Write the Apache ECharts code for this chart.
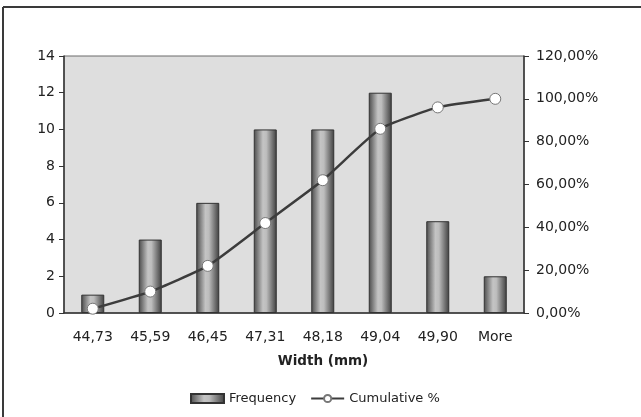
<!DOCTYPE html>
<html>
<head>
<meta charset="utf-8">
<script src="https://cdn.jsdelivr.net/npm/echarts@6/dist/echarts.min.js"></script>
<style>
  html, body { margin: 0; padding: 0; background: #ffffff; }
  #chart { width: 641px; height: 417px; }
</style>
</head>
<body>
<div id="chart"></div>
<script>
// Histogram of widths with cumulative percentage
const categories = ['44,73', '45,59', '46,45', '47,31', '48,18', '49,04', '49,90', 'More'];
const frequency = [1, 4, 6, 10, 10, 12, 5, 2];
const cumulativePct = [2, 10, 22, 42, 62, 86, 96, 100];
const leftTicks = [0, 2, 4, 6, 8, 10, 12, 14];
const rightTicks = [0, 20, 40, 60, 80, 100, 120];
const xTitle = 'Width (mm)';

const font = '"DejaVu Sans", "Liberation Sans", Arial, sans-serif';
const chart = echarts.init(document.getElementById('chart'), null, { renderer: 'canvas' });

const barFill = new echarts.graphic.LinearGradient(0, 0, 1, 0, [
  { offset: 0, color: '#4a4a4a' },
  { offset: 0.4, color: '#c4c4c4' },
  { offset: 0.55, color: '#bdbdbd' },
  { offset: 1, color: '#3e3e3e' }
]);

chart.setOption({
  backgroundColor: '#ffffff',
  animation: false,
  textStyle: { fontFamily: font },
  graphic: [
    { type: 'line', shape: { x1: 3, y1: 7, x2: 641, y2: 7 }, style: { stroke: '#3a3a3a', lineWidth: 2 }, z: 100 },
    { type: 'line', shape: { x1: 3, y1: 7, x2: 3, y2: 417 }, style: { stroke: '#3a3a3a', lineWidth: 2 }, z: 100 },
    // axis title placed under the category labels
    { type: 'text', x: 323, y: 361, style: { text: xTitle, fontFamily: font, fontSize: 13.5, fontWeight: 'bold',
        fill: '#222', align: 'center', verticalAlign: 'middle' } }
  ],
  grid: {
    left: 64, right: 117, top: 56, bottom: 104,
    show: true,
    backgroundColor: '#dedede',
    borderColor: '#6a6a6a',
    borderWidth: 1
  },
  legend: {
    top: 387,
    left: 185,
    itemGap: 14,
    itemWidth: 33,
    itemHeight: 9,
    textStyle: { fontFamily: font, fontSize: 13, color: '#222' },
    data: [
      { name: 'Frequency', icon: 'rect' },
      { name: 'Cumulative %' }
    ]
  },
  xAxis: {
    type: 'category',
    data: categories,
    axisLine: { lineStyle: { color: '#333', width: 1.5 } },
    axisTick: { inside: true, length: 6, lineStyle: { color: '#333' } },
    axisLabel: { fontFamily: font, fontSize: 14, color: '#222', margin: 17 }
  },
  yAxis: [
    {
      type: 'value',
      min: 0, max: 14, interval: 2,
      axisLine: { show: true, lineStyle: { color: '#333', width: 1.5 } },
      axisTick: { show: true, length: 5, lineStyle: { color: '#333' } },
      axisLabel: { fontFamily: font, fontSize: 14, color: '#222', margin: 9,
        formatter: v => leftTicks.includes(v) ? String(v) : '' },
      splitLine: { show: false }
    },
    {
      type: 'value',
      min: 0, max: 120, interval: 20,
      position: 'right',
      axisLine: { show: true, lineStyle: { color: '#333', width: 1.5 } },
      axisTick: { show: true, length: 5, lineStyle: { color: '#333' } },
      axisLabel: { fontFamily: font, fontSize: 14, color: '#222', margin: 12,
        formatter: v => rightTicks.includes(v) ? v.toFixed(2).replace('.', ',') + '%' : '' },
      splitLine: { show: false }
    }
  ],
  series: [
    {
      name: 'Frequency',
      type: 'bar',
      data: frequency,
      barWidth: 23,
      itemStyle: { color: barFill, borderColor: '#333', borderWidth: 1 }
    },
    {
      name: 'Cumulative %',
      type: 'line',
      yAxisIndex: 1,
      data: cumulativePct,
      smooth: 0.15,
      symbol: 'circle',
      symbolSize: 11,
      lineStyle: { color: '#3c3c3c', width: 2.5 },
      itemStyle: { color: '#ffffff', borderColor: '#777', borderWidth: 1 },
      z: 5
    }
  ]
});
</script>
</body>
</html>
